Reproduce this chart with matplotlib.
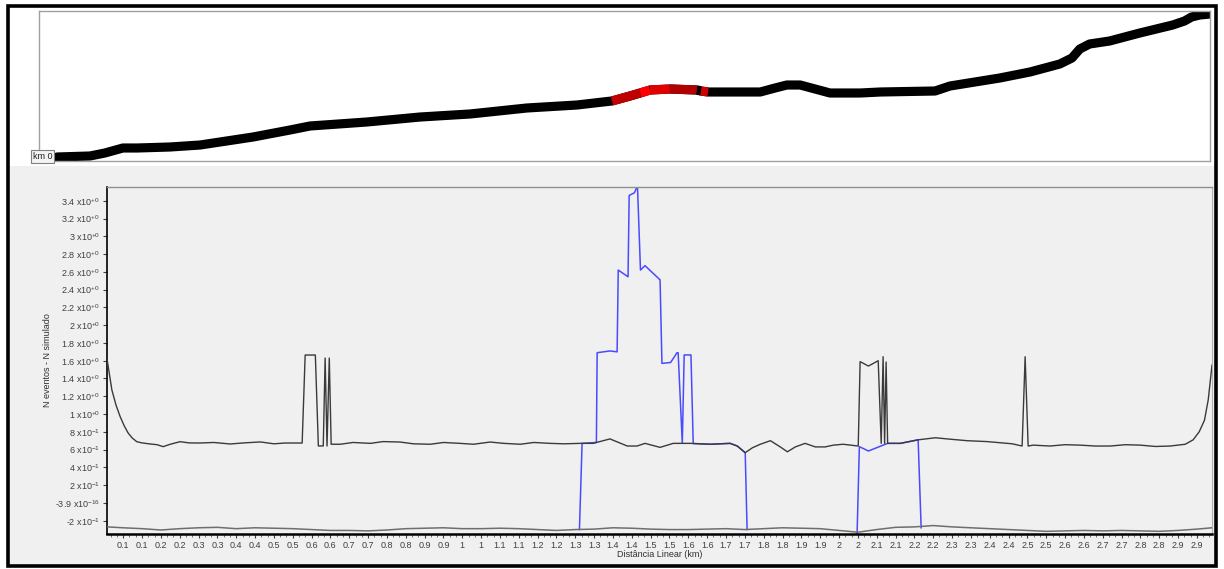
import numpy as np
import matplotlib.pyplot as plt
from matplotlib.patches import Rectangle
from matplotlib.ticker import MultipleLocator

plt.rcParams['font.family'] = ['Liberation Sans', 'DejaVu Sans']
plt.rcParams['mathtext.fontset'] = 'custom'
plt.rcParams['mathtext.rm'] = 'Liberation Sans'
plt.rcParams['mathtext.it'] = 'Liberation Sans:italic'
plt.rcParams['mathtext.bf'] = 'Liberation Sans:bold'

# --- top panel: route profile (km, relative elevation)
prof_km = [0.000, 0.084, 0.122, 0.168, 0.204, 0.288, 0.365, 0.500, 0.594, 0.645,
           0.790, 0.926, 1.053, 1.198, 1.326, 1.392, 1.415, 1.461, 1.487, 1.512,
           1.563, 1.632, 1.642, 1.660, 1.716, 1.793, 1.831, 1.861, 1.895, 1.933,
           1.971, 2.048, 2.099, 2.239, 2.277, 2.404, 2.481, 2.557, 2.588, 2.608,
           2.633, 2.684, 2.761, 2.845, 2.875, 2.893, 2.914, 2.940]
prof_elev = [4, 5, 8, 13, 13, 14, 16, 24, 31, 35,
             39, 44, 47, 53, 56, 59, 60, 65, 68, 71,
             72, 71, 70, 69, 69, 69, 73, 76, 76, 72,
             68, 68, 69, 70, 75, 83, 89, 97, 103, 112,
             117, 120, 128, 136, 140, 144, 146, 147]
# highlighted stretches: (first vertex, last vertex, colour)
prof_segments = [(16, 18, '#c00000'), (18, 19, '#ff0000'), (19, 20, '#e00000'),
                 (20, 21, '#b00000'), (21, 22, '#000000'), (22, 23, '#d00000')]

# --- bottom panel
upper_km = [0.0074, 0.020, 0.031, 0.042, 0.053, 0.063, 0.074, 0.086, 0.100, 0.122,
            0.140, 0.156, 0.175, 0.201, 0.225, 0.254, 0.290, 0.334, 0.370, 0.414,
            0.450, 0.480, 0.525, 0.533, 0.560, 0.568, 0.581, 0.586, 0.591, 0.597,
            0.602, 0.626, 0.660, 0.706, 0.740, 0.785, 0.820, 0.865, 0.900, 0.944,
            0.980, 1.024, 1.060, 1.104, 1.140, 1.183, 1.220, 1.263, 1.297, 1.342,
            1.388, 1.414, 1.435, 1.475, 1.510, 1.555, 1.608, 1.661, 1.680, 1.701,
            1.720, 1.741, 1.768, 1.794, 1.813, 1.834, 1.860, 1.887, 1.913, 1.935,
            1.961, 2.001, 2.006, 2.028, 2.054, 2.062, 2.067, 2.071, 2.075, 2.079,
            2.113, 2.160, 2.206, 2.237, 2.290, 2.343, 2.386, 2.410, 2.436, 2.444,
            2.452, 2.465, 2.510, 2.550, 2.590, 2.630, 2.670, 2.710, 2.750, 2.790,
            2.829, 2.869, 2.890, 2.906, 2.920, 2.930, 2.940]
upper_val = [1.61, 1.27, 1.10, 0.97, 0.865, 0.787, 0.73, 0.689, 0.675, 0.663,
             0.655, 0.633, 0.66, 0.689, 0.675, 0.674, 0.68, 0.663, 0.675, 0.686,
             0.665, 0.674, 0.674, 1.664, 1.664, 0.641, 0.641, 1.63, 0.64, 1.63,
             0.66, 0.66, 0.68, 0.67, 0.69, 0.685, 0.665, 0.66, 0.68, 0.67,
             0.66, 0.685, 0.67, 0.66, 0.68, 0.67, 0.665, 0.67, 0.67, 0.72,
             0.64, 0.64, 0.67, 0.625, 0.67, 0.67, 0.66, 0.67, 0.64, 0.565,
             0.62, 0.66, 0.70, 0.63, 0.575, 0.63, 0.67, 0.63, 0.63, 0.65,
             0.66, 0.64, 1.59, 1.54, 1.60, 0.67, 1.645, 0.67, 1.585, 0.67,
             0.67, 0.71, 0.733, 0.72, 0.70, 0.69, 0.674, 0.665, 0.64, 1.645,
             0.64, 0.65, 0.64, 0.655, 0.65, 0.64, 0.64, 0.655, 0.65, 0.635,
             0.64, 0.66, 0.71, 0.80, 0.93, 1.16, 1.55]

lower_km = [0.0074, 0.05, 0.10, 0.15, 0.20, 0.25, 0.30, 0.35, 0.40, 0.45,
            0.50, 0.55, 0.60, 0.65, 0.70, 0.75, 0.80, 0.85, 0.90, 0.95,
            1.00, 1.05, 1.10, 1.15, 1.20, 1.25, 1.30, 1.35, 1.40, 1.45,
            1.50, 1.55, 1.60, 1.65, 1.70, 1.75, 1.80, 1.85, 1.90, 1.95,
            2.00, 2.05, 2.10, 2.15, 2.20, 2.25, 2.30, 2.35, 2.40, 2.45,
            2.50, 2.55, 2.60, 2.65, 2.70, 2.75, 2.80, 2.85, 2.90, 2.94]
lower_val = [-0.27, -0.28, -0.29, -0.305, -0.29, -0.28, -0.275, -0.29, -0.28, -0.285,
             -0.29, -0.30, -0.31, -0.31, -0.315, -0.305, -0.29, -0.285, -0.28, -0.29,
             -0.29, -0.285, -0.29, -0.30, -0.31, -0.30, -0.295, -0.28, -0.285, -0.295,
             -0.30, -0.30, -0.295, -0.29, -0.30, -0.29, -0.28, -0.285, -0.29, -0.31,
             -0.33, -0.30, -0.275, -0.27, -0.255, -0.27, -0.28, -0.29, -0.30, -0.31,
             -0.32, -0.315, -0.31, -0.315, -0.31, -0.315, -0.32, -0.31, -0.295, -0.28]

blue_km = [1.261, 1.268, 1.306, 1.308, 1.342, 1.361, 1.364, 1.390, 1.393, 1.407,
           1.415, 1.423, 1.435, 1.475, 1.480, 1.503, 1.520, 1.523, 1.534, 1.539,
           1.557, 1.563, 1.608, 1.661, 1.680, 1.701, 1.706,
           np.nan,
           1.998, 2.004, 2.028, 2.073, 2.079, 2.113, 2.160, 2.168]
blue_val = [-0.30, 0.67, 0.68, 1.69, 1.71, 1.70, 2.62, 2.545, 3.46, 3.49,
            3.57, 2.62, 2.67, 2.51, 1.57, 1.58, 1.69, 1.69, 0.67, 1.665,
            1.665, 0.668, 0.66, 0.67, 0.64, 0.565, -0.30,
            np.nan,
            -0.34, 0.633, 0.584, 0.66, 0.67, 0.67, 0.71, -0.28]

ytick_vals = [3.4, 3.2, 3.0, 2.8, 2.6, 2.4, 2.2, 2.0, 1.8, 1.6, 1.4, 1.2, 1.0,
              0.8, 0.6, 0.4, 0.2, 0.0, -0.2]
ytick_mant = ['3.4', '3.2', '3', '2.8', '2.6', '2.4', '2.2', '2', '1.8', '1.6', '1.4',
              '1.2', '1', '8', '6', '4', '2', '-3.9', '-2']
ytick_exp = ['+0'] * 13 + ['-1'] * 4 + ['-16', '-1']

xtick_labels = ['0.1', '0.1', '0.2', '0.2', '0.3', '0.3', '0.4', '0.4', '0.5', '0.5',
                '0.6', '0.6', '0.7', '0.7', '0.8', '0.8', '0.9', '0.9', '1', '1',
                '1.1', '1.1', '1.2', '1.2', '1.3', '1.3', '1.4', '1.4', '1.5', '1.5',
                '1.6', '1.6', '1.7', '1.7', '1.8', '1.8', '1.9', '1.9', '2', '2',
                '2.1', '2.1', '2.2', '2.2', '2.3', '2.3', '2.4', '2.4', '2.5', '2.5',
                '2.6', '2.6', '2.7', '2.7', '2.8', '2.8', '2.9', '2.9']
xtick_vals = [0.05 * (i + 1) for i in range(len(xtick_labels))]

W, H = 1224, 569
fig = plt.figure(figsize=(W / 100, H / 100), dpi=100)
fig.patch.set_facecolor('white')


def fx(px):
    return px / W


def fy(py):
    return 1 - py / H


# grey lower background and outer black frame
fig.patches.append(Rectangle((fx(8), fy(566)), fx(1207), (566 - 166) / H,
                             transform=fig.transFigure, fc='#f0f0f0', ec='none', zorder=-5))
fig.patches.append(Rectangle((fx(7.5), fy(565.5)), fx(1208), 560 / H,
                             transform=fig.transFigure, fill=False, ec='black', lw=2.6, zorder=10))

# top panel
ax_top = fig.add_axes([fx(39), fy(161), fx(1210) - fx(39), fy(11) - fy(161)])
ax_top.set_facecolor('white')
ax_top.plot(prof_km, prof_elev, color='black', lw=6.6, solid_capstyle='round',
            solid_joinstyle='round', zorder=2)
for i0, i1, col in prof_segments:
    ax_top.plot(prof_km[i0:i1 + 1], prof_elev[i0:i1 + 1], color=col, lw=6.6,
                solid_capstyle='butt', zorder=3)
ax_top.set_xlim(-0.046, 2.94)
ax_top.set_ylim(0, 150)
ax_top.set_xticks([])
ax_top.set_yticks([])
for s in ax_top.spines.values():
    s.set_color('#a0a0a0')
    s.set_linewidth(1)

fig.text(fx(42.5), fy(156.5), 'km 0', ha='center', va='center', fontsize=6.5, color='#202020',
         bbox=dict(boxstyle='square,pad=0.2', fc='#f4f4f4', ec='#808080', lw=0.8), zorder=12)

# bottom panel
ax = fig.add_axes([fx(107), fy(534), fx(1212) - fx(107), fy(187) - fy(534)])
ax.set_facecolor('#f0f0f0')
ax.plot(blue_km, blue_val, color='#4a4aff', lw=1.1, zorder=2)
ax.plot(lower_km, lower_val, color='#6e6e6e', lw=1.1, zorder=3)
ax.plot(upper_km, upper_val, color='#3a3a3a', lw=1.0, zorder=4)

ax.set_xlim(0.007, 2.94)
ax.set_ylim(-0.35, 3.555)
ax.set_yticks(ytick_vals)
ax.set_yticklabels([f'{m} x10$^{{{e}}}$' for m, e in zip(ytick_mant, ytick_exp)])
ax.set_xticks(xtick_vals)
ax.set_xticklabels(xtick_labels)
ax.xaxis.set_minor_locator(MultipleLocator(0.05 / 3))
ax.tick_params(axis='both', which='major', direction='out', length=3, width=0.8,
               colors='#404040', labelsize=6.5, pad=2)
ax.tick_params(axis='x', which='major', pad=2)
ax.tick_params(axis='x', which='minor', direction='out', length=2, width=0.6, color='#606060')

ax.spines['left'].set_color('black')
ax.spines['left'].set_linewidth(1.2)
ax.spines['bottom'].set_color('black')
ax.spines['bottom'].set_linewidth(1.8)
ax.spines['top'].set_color('#909090')
ax.spines['top'].set_linewidth(1)
ax.spines['right'].set_color('#b0b0b0')
ax.spines['right'].set_linewidth(0.8)

ax.set_xlabel('Distância Linear (km)', fontsize=6.5, color='#303030', labelpad=0)
ax.set_ylabel('N eventos - N simulado', fontsize=6.5, color='#303030')
ax.yaxis.set_label_coords((52 - 107) / (1212 - 107), 0.5)

fig.savefig('out.png', dpi=100)
